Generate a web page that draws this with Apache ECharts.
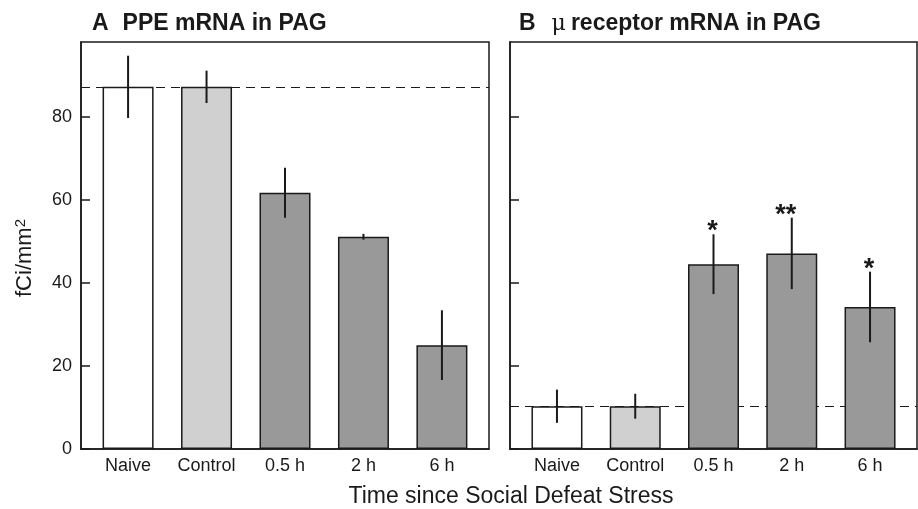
<!DOCTYPE html>
<html lang="en">
<head>
  <meta charset="UTF-8">
  <title>PPE and mu receptor mRNA in PAG</title>
  <style>
    * {
      padding: 0;
      margin: 0;
    }

    #chart {
      width: 918px;
      height: 509px;
      background: #fff;
    }
  </style>
</head>
<body>
  <div id="chart"></div>

  <script src="https://cdn.jsdelivr.net/npm/echarts@6/dist/echarts.min.js"></script>
  <script>
    const categories = ['Naive', 'Control', '0.5 h', '2 h', '6 h'];
    const ppeMean = [87.2, 87.2, 61.7, 51.1, 25.0];
    const ppeErr = [7.5, 3.9, 6.0, 0.7, 8.4];
    const muMean = [10.3, 10.3, 44.5, 47.1, 34.2];
    const muErr = [4.0, 3.0, 7.2, 8.6, 8.5];
    const muSig = ['', '', '*', '**', '*'];
    const yTicks = [0, 20, 40, 60, 80];

    const fills = ['#ffffff', '#d0d0d0', '#999999', '#999999', '#999999'];
    const font = 'Liberation Sans, Arial, sans-serif';
    const ink = '#1a1a1a';

    const chart = echarts.init(document.getElementById('chart'));

    function xAxisFor(idx) {
      return {
        type: 'value',
        gridIndex: idx,
        min: -0.6,
        max: 4.6,
        splitLine: { show: false },
        axisLine: { show: true, onZero: false, lineStyle: { color: ink, width: 1.5 } },
        axisTick: { show: false },
        axisLabel: {
          customValues: [0, 1, 2, 3, 4],
          formatter: v => categories[Math.round(v)],
          color: ink,
          fontFamily: font,
          fontSize: 18,
          margin: 8
        }
      };
    }

    function yAxisFor(idx, labels) {
      return {
        type: 'value',
        gridIndex: idx,
        min: 0,
        max: 98,
        splitLine: { show: false },
        axisLine: { show: true, onZero: false, lineStyle: { color: ink, width: 1.5 } },
        axisTick: {
          show: true,
          inside: true,
          length: 9,
          customValues: yTicks,
          lineStyle: { color: ink, width: 1.5 }
        },
        axisLabel: {
          show: labels,
          customValues: yTicks,
          color: ink,
          fontFamily: font,
          fontSize: 18,
          margin: 9
        }
      };
    }

    function barSeries(idx, means) {
      return {
        type: 'bar',
        xAxisIndex: idx,
        yAxisIndex: idx,
        barWidth: 51,
        z: 2,
        data: means.map((m, i) => ({
          value: [i, m],
          itemStyle: { color: fills[i] }
        })),
        itemStyle: { borderColor: ink, borderWidth: 1.5 },
        markLine: {
          silent: true,
          symbol: 'none',
          z: 1,
          label: { show: false },
          lineStyle: { color: ink, type: [9, 6], width: 1.2 },
          data: [{ yAxis: means[0] }]
        }
      };
    }

    function errSeries(idx, means, errs, sig) {
      return {
        type: 'custom',
        xAxisIndex: idx,
        yAxisIndex: idx,
        z: 3,
        data: means.map((m, i) => [i, m, errs[i]]),
        renderItem: function(params, api) {
          const x = api.value(0);
          const m = api.value(1);
          const e = api.value(2);
          const top = api.coord([x, m + e]);
          const bot = api.coord([x, m - e]);
          const children = [{
            type: 'line',
            shape: { x1: top[0], y1: top[1], x2: bot[0], y2: bot[1] },
            style: { stroke: ink, lineWidth: 2 }
          }];
          const s = sig ? sig[params.dataIndex] : '';
          if (s) {
            children.push({
              type: 'text',
              x: top[0] - (s.length > 1 ? 6 : 1),
              y: top[1] + 11,
              style: {
                text: s,
                fill: ink,
                font: 'bold 27px ' + font,
                align: 'center',
                verticalAlign: 'bottom'
              }
            });
          }
          return { type: 'group', children: children };
        }
      };
    }

    const option = {
      animation: false,
      backgroundColor: '#fff',
      grid: [
        { left: 81, top: 42, width: 408, height: 407, show: true, borderColor: ink, borderWidth: 1.5 },
        { left: 510, top: 42, width: 407, height: 407, show: true, borderColor: ink, borderWidth: 1.5 }
      ],
      xAxis: [xAxisFor(0), xAxisFor(1)],
      yAxis: [yAxisFor(0, true), yAxisFor(1, false)],
      graphic: [
        {
          type: 'text',
          x: 92,
          y: 24,
          style: {
            text: '{b|A}{b|PPE mRNA in PAG}',
            verticalAlign: 'middle',
            rich: {
              b: { font: 'bold 23px ' + font, fill: ink, padding: [0, 14, 0, 0] }
            }
          }
        },
        {
          type: 'text',
          x: 519,
          y: 24,
          style: {
            text: '{h|B}{m|μ}{b|receptor mRNA in PAG}',
            verticalAlign: 'middle',
            rich: {
              h: { font: 'bold 23px ' + font, fill: ink, padding: [0, 16, 0, 0] },
              b: { font: 'bold 23px ' + font, fill: ink },
              m: { font: '22px DejaVu Serif, serif', fill: ink, padding: [0, 5, 0, 0] }
            }
          }
        },
        {
          type: 'text',
          x: 25,
          y: 258,
          rotation: Math.PI / 2,
          style: {
            text: 'fCi/mm{s|2}',
            font: '22px ' + font,
            fill: ink,
            align: 'center',
            verticalAlign: 'middle',
            rich: {
              s: { font: '15px ' + font, fill: ink, verticalAlign: 'top', padding: [0, 0, 8, 0] }
            }
          }
        },
        {
          type: 'text',
          x: 511,
          y: 497,
          style: {
            text: 'Time since Social Defeat Stress',
            font: '23px ' + font,
            fill: ink,
            align: 'center',
            verticalAlign: 'middle'
          }
        }
      ],
      series: [
        barSeries(0, ppeMean),
        errSeries(0, ppeMean, ppeErr, null),
        barSeries(1, muMean),
        errSeries(1, muMean, muErr, muSig)
      ]
    };

    chart.setOption(option);
  </script>
</body>
</html>
